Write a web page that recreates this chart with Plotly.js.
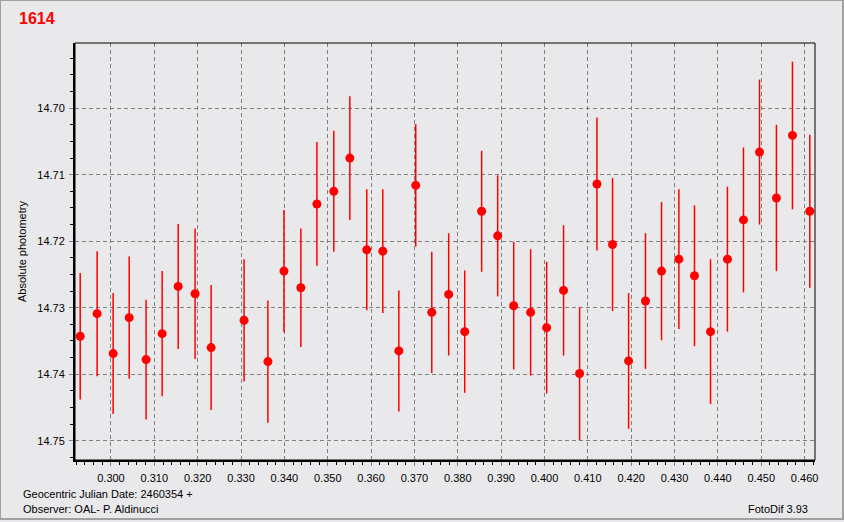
<!DOCTYPE html>
<html>
<head>
<meta charset="utf-8">
<script src="https://cdn.plot.ly/plotly-3.0.1.min.js"></script>
<style>
html,body{margin:0;padding:0;background:#e9e9eb;}
#wrap{position:relative;width:844px;height:522px;}
#chart{width:844px;height:522px;}
#frame{position:absolute;left:0;top:0;width:841px;height:517px;border-left:1px solid #a0a0a0;border-top:1px solid #a0a0a0;border-right:2px solid #a0a0a0;border-bottom:2px solid #a0a0a0;pointer-events:none;}
</style>
</head>
<body>
<div id="wrap"><div id="chart"></div><div id="frame"></div></div>
<script>
// Geocentric Julian Date offsets (+2460354)
const jd = [0.2929,0.2968,0.3005,0.3042,0.3081,0.3118,0.3155,0.3194,0.3231,0.3307,0.3362,0.3399,0.3438,0.3475,0.3514,0.3551,0.3590,0.3627,0.3664,0.3703,0.3740,0.3779,0.3816,0.3855,0.3892,0.3929,0.3968,0.4005,0.4044,0.4081,0.4121,0.4157,0.4194,0.4233,0.4270,0.4310,0.4346,0.4383,0.4422,0.4459,0.4496,0.4535,0.4572,0.4612];
// Absolute photometry (mag)
const mag = [14.7343,14.7309,14.7369,14.7315,14.7378,14.7339,14.7268,14.7279,14.7360,14.7319,14.7381,14.7245,14.7270,14.7144,14.7125,14.7075,14.7213,14.7215,14.7365,14.7116,14.7307,14.7280,14.7336,14.7155,14.7192,14.7297,14.7307,14.7330,14.7274,14.7399,14.7114,14.7205,14.7380,14.7290,14.7245,14.7227,14.7252,14.7336,14.7227,14.7168,14.7066,14.7135,14.7041,14.7155];
// Error (mag)
const magErr = [0.0095,0.0094,0.0091,0.0092,0.0090,0.0094,0.0094,0.0098,0.0094,0.0092,0.0092,0.0092,0.0089,0.0093,0.0091,0.0093,0.0091,0.0093,0.0091,0.0092,0.0091,0.0092,0.0092,0.0091,0.0091,0.0096,0.0095,0.0099,0.0098,0.0100,0.0100,0.0100,0.0102,0.0102,0.0104,0.0105,0.0106,0.0109,0.0109,0.0109,0.0109,0.0110,0.0111,0.0115];

const titleText = '1614';
const yTitle = 'Absolute photometry';
const xLabel = 'Geocentric Julian Date: 2460354 +';
const observer = 'Observer: OAL- P. Aldinucci';
const software = 'FotoDif 3.93';

const FONT = '"Liberation Sans", Arial, sans-serif';
const L = 75, R = 29, T = 43, B = 62, W = 844, H = 522;
const PW = W - L - R, PH = H - T - B;
const px = v => (v - L) / PW;
const py = v => (H - B - v) / PH;

const trace = {
  x: jd, y: mag, type: 'scatter', mode: 'markers',
  marker: {color: '#ff0000', size: 9, symbol: 'circle', line: {width: 0}},
  error_y: {type: 'data', array: magErr, visible: true, color: '#ff0000', thickness: 1.5, width: 0},
  hoverinfo: 'x+y'
};

const axisCommon = {
  showgrid: true, gridcolor: '#808080', gridwidth: 1, griddash: '4px,3px',
  zeroline: false, showline: true, linecolor: '#000', linewidth: 2,
  ticks: 'outside', ticklen: 4, tickcolor: '#808080', tickwidth: 1,
  tickfont: {family: FONT, size: 11, color: '#000'}
};

const layout = {
  width: W, height: H,
  margin: {l: L, r: R, t: T, b: B, pad: 0},
  paper_bgcolor: '#e9e9eb', plot_bgcolor: '#e9e9eb',
  showlegend: false,
  font: {family: FONT, size: 11, color: '#000'},
  xaxis: Object.assign({}, axisCommon, {
    range: [0.2917, 0.4624], tick0: 0.3, dtick: 0.01, tickformat: '.3f', ticklabelstandoff: 3,
    minor: {dtick: 0.002, tick0: 0.3, ticks: 'outside', ticklen: 3, tickcolor: '#000', showgrid: false}
  }),
  yaxis: Object.assign({}, axisCommon, {
    range: [14.7529, 14.6902], tick0: 14.7, dtick: 0.01, tickformat: '.2f', ticklabelstandoff: 2,
    minor: {dtick: 0.0025, tick0: 14.7, ticks: 'outside', ticklen: 3, tickcolor: '#000', showgrid: false}
  }),
  shapes: [{type: 'rect', xref: 'paper', yref: 'paper', x0: 0, x1: 1, y0: 0, y1: 1,
            line: {color: '#000', width: 1}, fillcolor: 'rgba(0,0,0,0)', layer: 'above'}],
  annotations: [
    {text: '<b>' + titleText + '</b>', xref: 'paper', yref: 'paper', x: px(17), y: py(19),
     xanchor: 'left', yanchor: 'middle', showarrow: false, font: {family: FONT, size: 16, color: '#ff0000'}},
    {text: yTitle, xref: 'paper', yref: 'paper', x: px(22), y: py(252), textangle: -90,
     xanchor: 'center', yanchor: 'middle', showarrow: false, font: {family: FONT, size: 11, color: '#000'}},
    {text: xLabel, xref: 'paper', yref: 'paper', x: px(21), y: py(494),
     xanchor: 'left', yanchor: 'middle', showarrow: false, font: {family: FONT, size: 11, color: '#000'}},
    {text: observer, xref: 'paper', yref: 'paper', x: px(21), y: py(509),
     xanchor: 'left', yanchor: 'middle', showarrow: false, font: {family: FONT, size: 11, color: '#000'}},
    {text: software, xref: 'paper', yref: 'paper', x: px(810), y: py(509),
     xanchor: 'right', yanchor: 'middle', showarrow: false, font: {family: FONT, size: 11, color: '#000'}}
  ]
};

Plotly.newPlot('chart', [trace], layout, {staticPlot: true, displayModeBar: false});
</script>
</body>
</html>
